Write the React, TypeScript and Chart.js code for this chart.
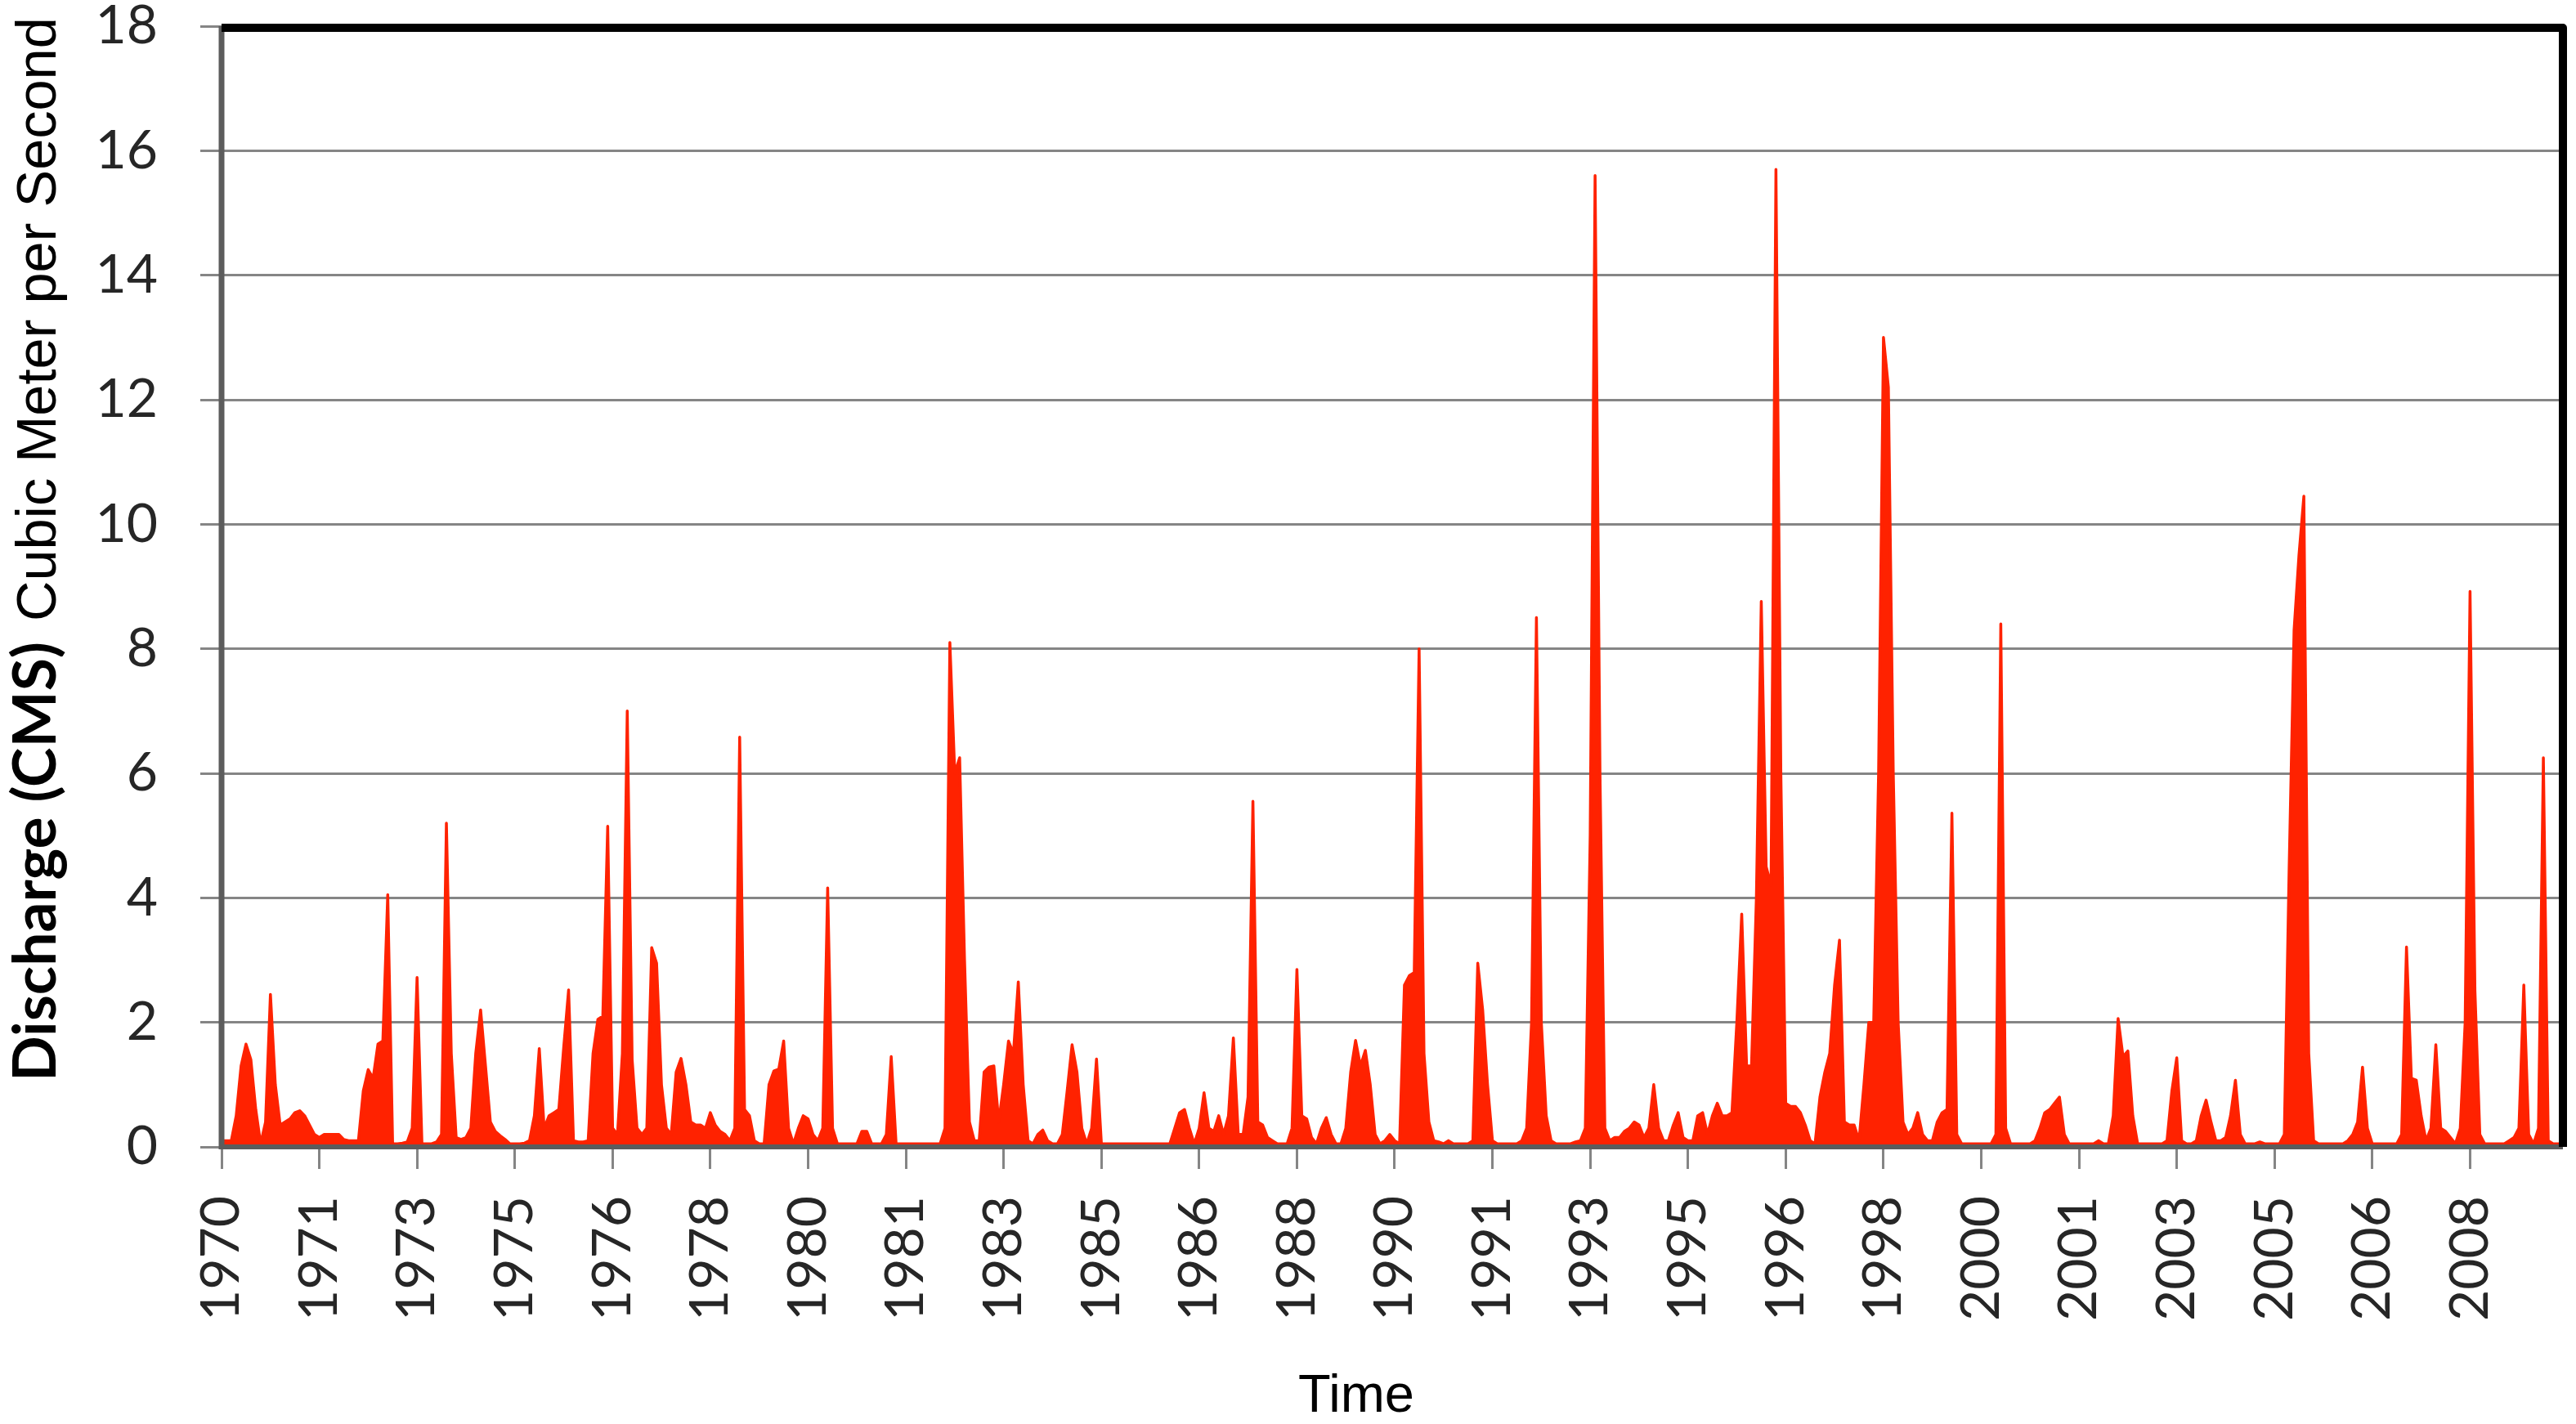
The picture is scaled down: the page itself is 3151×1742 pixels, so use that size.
import React, { useEffect, useRef } from 'react';
import { Chart, registerables } from 'chart.js';

Chart.register(...registerables);

// ---- Data -------------------------------------------------------------
const START_YEAR = 1970;
const LABEL_EVERY = 20; // one year label every 20 monthly categories
const TICK_LABELS = [
  '1970', '1971', '1973', '1975', '1976', '1978', '1980', '1981', '1983', '1985', '1986', '1988',
  '1990', '1991', '1993', '1995', '1996', '1998', '2000', '2001', '2003', '2005', '2006', '2008',
];
const Y_MIN = 0;
const Y_MAX = 18;
const Y_STEP = 2;

// Monthly discharge (CMS), Jan 1970 ... Dec 2009
const Q_1970S = [
  0.1, 0.1, 0.1, 0.5, 1.3, 1.65, 1.4, 0.6, 0.05, 0.4,
  2.45, 1.0, 0.35, 0.4, 0.45, 0.55, 0.58, 0.5, 0.35, 0.2,
  0.15, 0.2, 0.2, 0.2, 0.2, 0.12, 0.1, 0.1, 0.1, 0.9,
  1.24, 1.1, 1.65, 1.7, 4.05, 0.05, 0.05, 0.06, 0.08, 0.3,
  2.72, 0.05, 0.05, 0.05, 0.08, 0.2, 5.2, 1.5, 0.15, 0.12,
  0.15, 0.3, 1.5, 2.2, 1.3, 0.4, 0.25, 0.18, 0.12, 0.05,
  0.05, 0.05, 0.06, 0.1, 0.5, 1.58, 0.3, 0.5, 0.55, 0.6,
  1.6, 2.52, 0.1, 0.08, 0.08, 0.1, 1.5, 2.05, 2.1, 5.15,
  0.3, 0.2, 1.5, 7.0, 1.4, 0.3, 0.2, 0.3, 3.2, 2.95,
  1.0, 0.3, 0.2, 1.2, 1.42, 1.0, 0.4, 0.35, 0.35, 0.3,
  0.55, 0.35, 0.25, 0.2, 0.1, 0.3, 6.58, 0.6, 0.5, 0.1,
  0.05, 0.05, 1.0, 1.22, 1.25, 1.7, 0.3, 0.05, 0.3, 0.5,
];
const Q_1980S = [
  0.45, 0.2, 0.1, 0.3, 4.16, 0.3, 0.05, 0.05, 0.05, 0.05,
  0.05, 0.25, 0.25, 0.05, 0.05, 0.05, 0.2, 1.45, 0.05, 0.05,
  0.05, 0.05, 0.05, 0.05, 0.05, 0.05, 0.05, 0.05, 0.3, 8.1,
  6.0, 6.25, 3.0, 0.4, 0.1, 0.1, 1.2, 1.28, 1.3, 0.4,
  1.0, 1.7, 1.5, 2.65, 1.0, 0.1, 0.05, 0.2, 0.27, 0.1,
  0.05, 0.05, 0.2, 0.9, 1.64, 1.2, 0.3, 0.05, 0.3, 1.41,
  0.05, 0.05, 0.05, 0.05, 0.05, 0.05, 0.05, 0.05, 0.05, 0.05,
  0.05, 0.05, 0.05, 0.05, 0.05, 0.3, 0.55, 0.6, 0.3, 0.05,
  0.3, 0.87, 0.3, 0.25, 0.5, 0.2, 0.5, 1.75, 0.2, 0.2,
  0.8, 5.55, 0.4, 0.35, 0.15, 0.1, 0.05, 0.05, 0.05, 0.3,
  2.85, 0.5, 0.45, 0.15, 0.05, 0.3, 0.47, 0.2, 0.05, 0.05,
  0.3, 1.2, 1.71, 1.3, 1.55, 1.0, 0.2, 0.05, 0.1, 0.2,
];
const Q_1990S = [
  0.1, 0.05, 2.6, 2.75, 2.8, 8.0, 1.5, 0.4, 0.1, 0.08,
  0.05, 0.1, 0.05, 0.05, 0.05, 0.05, 0.1, 2.95, 2.2, 1.0,
  0.1, 0.05, 0.05, 0.05, 0.05, 0.05, 0.1, 0.3, 2.0, 8.5,
  2.0, 0.5, 0.1, 0.05, 0.05, 0.05, 0.05, 0.08, 0.1, 0.3,
  5.0, 15.6, 6.0, 0.3, 0.1, 0.15, 0.15, 0.25, 0.3, 0.4,
  0.35, 0.15, 0.3, 1.0, 0.3, 0.1, 0.1, 0.35, 0.55, 0.15,
  0.1, 0.1, 0.5, 0.55, 0.2, 0.5, 0.7, 0.5, 0.5, 0.55,
  2.0, 3.74, 1.3, 1.3, 4.0, 8.76, 4.5, 4.2, 15.7, 6.0,
  0.7, 0.65, 0.65, 0.55, 0.35, 0.1, 0.05, 0.8, 1.2, 1.5,
  2.6, 3.32, 0.4, 0.35, 0.35, 0.1, 1.0, 2.0, 2.0, 6.0,
  13.0, 12.2, 6.0, 2.0, 0.4, 0.2, 0.3, 0.55, 0.2, 0.1,
  0.1, 0.4, 0.55, 0.6, 5.36, 0.2, 0.05, 0.05, 0.05, 0.05,
];
const Q_2000S = [
  0.05, 0.05, 0.05, 0.2, 8.4, 0.3, 0.05, 0.05, 0.05, 0.05,
  0.05, 0.1, 0.3, 0.55, 0.6, 0.7, 0.8, 0.2, 0.05, 0.05,
  0.05, 0.05, 0.05, 0.05, 0.1, 0.05, 0.05, 0.5, 2.06, 1.45,
  1.54, 0.5, 0.05, 0.05, 0.05, 0.05, 0.05, 0.05, 0.1, 0.9,
  1.43, 0.1, 0.05, 0.05, 0.1, 0.5, 0.75, 0.4, 0.1, 0.1,
  0.15, 0.5, 1.07, 0.2, 0.05, 0.05, 0.05, 0.08, 0.05, 0.05,
  0.05, 0.05, 0.2, 4.5, 8.3, 9.5, 10.45, 1.5, 0.1, 0.05,
  0.05, 0.05, 0.05, 0.05, 0.05, 0.1, 0.2, 0.4, 1.28, 0.3,
  0.05, 0.05, 0.05, 0.05, 0.05, 0.05, 0.2, 3.21, 1.1, 1.07,
  0.5, 0.1, 0.3, 1.64, 0.3, 0.25, 0.15, 0.05, 0.3, 2.0,
  8.92, 2.5, 0.2, 0.05, 0.05, 0.05, 0.05, 0.05, 0.1, 0.15,
  0.3, 2.6, 0.2, 0.05, 0.3, 6.25, 0.1, 0.05, 0.05, 0.05,
];

const DISCHARGE = [...Q_1970S, ...Q_1980S, ...Q_1990S, ...Q_2000S];
const MONTHS = DISCHARGE.map(
  (_, i) => `${START_YEAR + Math.floor(i / 12)}-${String((i % 12) + 1).padStart(2, '0')}`
);

const Y_TITLE_BOLD = 'Discharge (CMS)';
const Y_TITLE_REGULAR = 'Cubic Meter per Second';
const X_TITLE = 'Time';

// ---- Styles -------------------------------------------------------------
const W = 3151;
const H = 1742;
const RED = 'rgb(255,34,0)';
const GRID = '#858585';
const AXIS = '#5c5c5c';
const TEXT = '#262626';
const TICK_FONT = 'Lato';

const framePlugin = {
  id: 'frame',
  afterDatasetsDraw(chart: any) {
    const { ctx, chartArea: a } = chart;
    ctx.save();
    ctx.lineCap = 'butt';
    ctx.strokeStyle = AXIS;
    ctx.lineWidth = 7;
    ctx.beginPath();
    ctx.moveTo(a.left, a.top);
    ctx.lineTo(a.left, a.bottom + 3);
    ctx.stroke();
    ctx.lineWidth = 6;
    ctx.beginPath();
    ctx.moveTo(a.left - 3, a.bottom);
    ctx.lineTo(a.right, a.bottom);
    ctx.stroke();
    ctx.strokeStyle = '#000';
    ctx.lineWidth = 10;
    ctx.lineJoin = 'round';
    ctx.beginPath();
    ctx.moveTo(a.left, a.top + 2);
    ctx.lineTo(a.right, a.top + 2);
    ctx.lineTo(a.right, a.bottom);
    ctx.stroke();
    ctx.restore();
  },
  afterDraw(chart: any) {
    const ctx = chart.ctx;
    ctx.save();
    ctx.fillStyle = '#000';
    ctx.textBaseline = 'alphabetic';
    // y title (rotated, reads bottom to top)
    const fit = (text: string, weight: string, family: string, target: number) => {
      ctx.font = `${weight} 100px ${family}`;
      const w = ctx.measureText(text).width;
      return (100 * target) / w;
    };
    const fs1 = fit(Y_TITLE_BOLD, 'bold', 'Lato', 538);
    const fs2 = fit(Y_TITLE_REGULAR, 'normal', '"Liberation Sans", Arial', 739);
    ctx.translate(68, 1323);
    ctx.rotate(-Math.PI / 2);
    ctx.textAlign = 'left';
    ctx.font = `bold ${fs1}px Lato`;
    ctx.fillText(Y_TITLE_BOLD, 0, 0);
    ctx.font = `normal ${fs2}px "Liberation Sans", Arial`;
    ctx.fillText(Y_TITLE_REGULAR, 563, 0);
    ctx.setTransform(1, 0, 0, 1, 0, 0);
    // x title
    ctx.textAlign = 'center';
    ctx.font = '65px "Liberation Sans", Arial';
    ctx.fillText(X_TITLE, 1659, 1727);
    ctx.restore();
  },
};

export default function App() {
  const ref = useRef<HTMLCanvasElement | null>(null);

  useEffect(() => {
    if (!ref.current) return;
    const chart = new Chart(ref.current, {
      type: 'line',
      data: {
        labels: MONTHS,
        datasets: [
          {
            data: DISCHARGE,
            borderColor: RED,
            backgroundColor: RED,
            borderWidth: 3.5,
            borderJoinStyle: 'round',
            fill: 'origin',
            pointRadius: 0,
            tension: 0,
          },
        ],
      },
      options: {
        animation: false,
        responsive: false,
        devicePixelRatio: 1,
        layout: { padding: { top: 32, right: 16, left: 0, bottom: 0 } },
        plugins: {
          legend: { display: false },
          tooltip: { enabled: false },
          title: { display: false },
        },
        scales: {
          x: {
            type: 'category',
            offset: false,
            border: { display: false },
            grid: {
              drawOnChartArea: false,
              drawTicks: true,
              tickLength: 27,
              lineWidth: 3,
              color: 'rgba(0,0,0,0)',
              tickColor: (c: any) => (c.index % LABEL_EVERY === 0 ? GRID : 'rgba(0,0,0,0)'),
            },
            ticks: {
              autoSkip: false,
              maxRotation: 90,
              minRotation: 90,
              padding: 33,
              color: TEXT,
              font: { family: TICK_FONT, size: 66 },
              callback: (_v: any, i: number) =>
                i % LABEL_EVERY === 0 ? TICK_LABELS[i / LABEL_EVERY] ?? '' : '',
            },
            afterFit: (s: any) => {
              s.height = 339;
              s.paddingLeft = 0;
              s.paddingRight = 0;
            },
          },
          y: {
            min: Y_MIN,
            max: Y_MAX,
            border: { display: false },
            grid: { color: GRID, lineWidth: 3, tickLength: 26, drawTicks: true },
            ticks: {
              stepSize: Y_STEP,
              padding: 52,
              color: TEXT,
              font: { family: TICK_FONT, size: 66 },
            },
            afterFit: (s: any) => {
              s.width = 271;
              s.paddingTop = 0;
              s.paddingBottom = 0;
            },
          },
        },
      },
      plugins: [framePlugin],
    } as any);

    let alive = true;
    if ((document as any).fonts) {
      Promise.all([
        (document as any).fonts.load('66px Lato'),
        (document as any).fonts.load('bold 75px Lato'),
        (document as any).fonts.load('65px "Liberation Sans"'),
      ])
        .catch(() => null)
        .then(() => {
          if (alive) chart.update();
        });
    }
    return () => {
      alive = false;
      chart.destroy();
    };
  }, []);

  return (
    <div
      style={{
        position: 'fixed',
        left: 0,
        top: 0,
        width: W,
        height: H,
        background: '#fff',
      }}
    >
      <canvas ref={ref} width={W} height={H} style={{ display: 'block', width: W, height: H }} />
    </div>
  );
}
